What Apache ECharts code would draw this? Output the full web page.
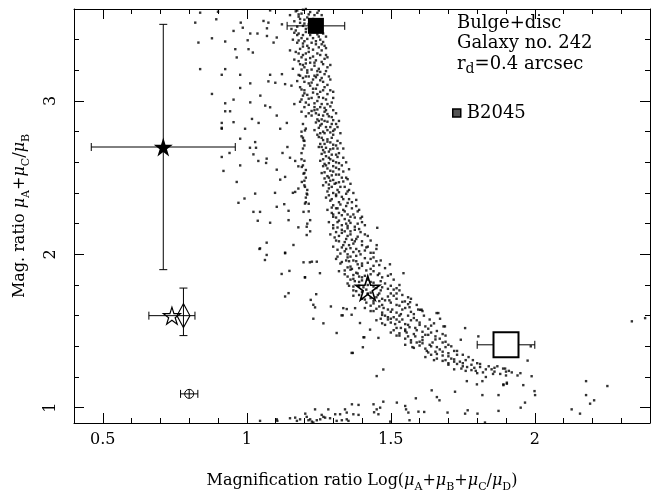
<!DOCTYPE html>
<html>
<head>
<meta charset="utf-8">
<script src="https://cdn.jsdelivr.net/npm/echarts@6/dist/echarts.min.js"></script>
<style>
html, body { margin: 0; padding: 0; background: #fff; }
#chart { width: 672px; height: 498px; }
</style>
</head>
<body>
<div id="chart"></div>
<script>
// Axis ticks
const xTickLabels = [0.5, 1, 1.5, 2];
const xMinorTicks = [0.4, 0.5, 0.6, 0.7, 0.8, 0.9, 1.0, 1.1, 1.2, 1.3, 1.4, 1.5, 1.6, 1.7, 1.8, 1.9, 2.0, 2.1, 2.2, 2.3, 2.4];
const yTickLabels = [1, 2, 3];
const yMinorTicks = [1.0, 1.2, 1.4, 1.6, 1.8, 2.0, 2.2, 2.4, 2.6, 2.8, 3.0, 3.2, 3.4, 3.6];

// Simulated lens models: the main arc of solutions
const mainArc = [
  [1.175,3.59],[1.19,3.57],[1.205,3.60],[1.22,3.58],[1.235,3.56],[1.25,3.59],[1.18,3.55],[1.21,3.545],
  [1.165,3.52],[1.185,3.51],[1.20,3.53],[1.215,3.50],[1.23,3.52],[1.26,3.53],[1.195,3.49],[1.245,3.47],
  [1.17,3.46],[1.18,3.44],[1.205,3.45],[1.22,3.43],[1.235,3.45],[1.25,3.42],[1.265,3.44],[1.19,3.41],
  [1.175,3.38],[1.20,3.39],[1.21,3.36],[1.225,3.38],[1.24,3.37],[1.255,3.40],[1.27,3.36],[1.185,3.34],
  [1.18,3.31],[1.195,3.30],[1.215,3.32],[1.23,3.29],[1.245,3.31],[1.26,3.33],[1.275,3.30],[1.205,3.27],
  [1.185,3.24],[1.20,3.22],[1.22,3.25],[1.235,3.23],[1.25,3.21],[1.265,3.24],[1.28,3.22],[1.21,3.20],
  [1.18,3.17],[1.195,3.15],[1.215,3.16],[1.23,3.14],[1.245,3.17],[1.26,3.15],[1.285,3.16],[1.225,3.12],
  [1.185,3.09],[1.20,3.07],[1.22,3.10],[1.24,3.08],[1.255,3.06],[1.27,3.09],[1.29,3.07],[1.21,3.04],
  [1.19,3.01],[1.205,2.99],[1.225,3.02],[1.245,3.00],[1.26,2.98],[1.275,3.01],[1.295,2.99],[1.235,2.96],
  [1.19,2.93],[1.215,2.92],[1.235,2.94],[1.25,2.91],[1.27,2.93],[1.285,2.90],[1.30,2.94],[1.26,2.88],
  [1.195,2.85],[1.205,2.82],[1.24,2.86],[1.255,2.84],[1.27,2.87],[1.29,2.83],[1.31,2.85],[1.265,2.80],
  [1.19,2.77],[1.20,2.74],[1.245,2.78],[1.26,2.76],[1.28,2.75],[1.30,2.78],[1.315,2.74],[1.27,2.72],
  [1.195,2.69],[1.19,2.66],[1.25,2.70],[1.265,2.68],[1.285,2.67],[1.30,2.69],[1.32,2.66],[1.275,2.64],
  [1.20,2.61],[1.195,2.58],[1.255,2.61],[1.27,2.59],[1.29,2.62],[1.31,2.60],[1.33,2.58],[1.28,2.56],
  [1.20,2.53],[1.205,2.50],[1.26,2.53],[1.28,2.51],[1.30,2.54],[1.32,2.52],[1.345,2.50],[1.29,2.48],
  [1.20,2.45],[1.21,2.42],[1.265,2.45],[1.285,2.43],[1.305,2.46],[1.325,2.44],[1.355,2.42],[1.30,2.40],
  [1.205,2.37],[1.215,2.33],[1.275,2.37],[1.29,2.35],[1.31,2.38],[1.335,2.36],[1.365,2.34],[1.30,2.32],
  [1.28,2.29],[1.295,2.27],[1.315,2.30],[1.34,2.28],[1.37,2.26],[1.39,2.29],[1.31,2.24],[1.355,2.22],
  [1.285,2.21],[1.30,2.19],[1.32,2.22],[1.345,2.20],[1.375,2.18],[1.40,2.21],[1.33,2.16],[1.36,2.15],
  [1.29,2.13],[1.305,2.11],[1.33,2.14],[1.35,2.12],[1.38,2.10],[1.41,2.13],[1.34,2.08],[1.37,2.07],
  [1.30,2.05],[1.315,2.03],[1.335,2.06],[1.36,2.04],[1.39,2.02],[1.42,2.05],[1.35,2.00],[1.38,1.99],[1.44,2.01],
  [1.31,1.97],[1.33,1.95],[1.35,1.98],[1.37,1.96],[1.40,1.94],[1.43,1.97],[1.36,1.92],[1.39,1.91],[1.46,1.93],
  [1.32,1.89],[1.34,1.87],[1.36,1.90],[1.38,1.88],[1.41,1.86],[1.44,1.89],[1.37,1.84],[1.40,1.83],[1.47,1.85],[1.50,1.87],
  [1.35,1.81],[1.37,1.79],[1.39,1.82],[1.42,1.80],[1.45,1.78],[1.48,1.81],[1.38,1.76],[1.43,1.75],[1.51,1.77],[1.53,1.80],
  [1.37,1.73],[1.40,1.71],[1.42,1.74],[1.45,1.72],[1.48,1.70],[1.51,1.73],[1.44,1.68],[1.47,1.67],[1.54,1.69],[1.57,1.71],
  [1.41,1.65],[1.43,1.63],[1.46,1.66],[1.49,1.64],[1.52,1.62],[1.55,1.65],[1.48,1.60],[1.51,1.59],[1.58,1.61],[1.61,1.63],
  [1.45,1.57],[1.47,1.55],[1.50,1.58],[1.53,1.56],[1.56,1.54],[1.59,1.57],[1.52,1.52],[1.55,1.51],[1.62,1.53],[1.65,1.55],
  [1.50,1.49],[1.52,1.47],[1.55,1.50],[1.58,1.48],[1.61,1.46],[1.64,1.49],[1.57,1.44],[1.60,1.43],[1.67,1.45],[1.69,1.47],
  [1.55,1.41],[1.58,1.39],[1.61,1.42],[1.64,1.40],[1.67,1.38],[1.70,1.41],[1.63,1.36],[1.66,1.35],[1.72,1.37],
  [1.62,1.33],[1.65,1.31],[1.68,1.34],[1.71,1.32],[1.74,1.30],[1.77,1.33],[1.70,1.28],[1.75,1.27],[1.80,1.29],
  [1.72,1.25],[1.76,1.24],[1.79,1.26],[1.82,1.23],[1.85,1.25],[1.88,1.22],[1.91,1.24],[1.94,1.21],[1.83,1.20],[1.87,1.27],
  [1.18,3.565],[1.23,3.535],[1.20,3.505],[1.24,3.49],[1.215,3.475],[1.175,3.43],[1.255,3.455],[1.23,3.41],[1.195,3.375],
  [1.265,3.385],[1.215,3.345],[1.25,3.35],[1.19,3.285],[1.24,3.265],[1.27,3.275],[1.195,3.235],[1.255,3.19],[1.21,3.185],
  [1.275,3.195],[1.24,3.155],[1.20,3.125],[1.265,3.125],[1.23,3.055],[1.28,3.045],[1.195,3.035],[1.25,3.025],[1.215,2.975],
  [1.27,2.955],[1.29,2.965],[1.245,2.945],[1.225,2.905],[1.28,2.915],[1.25,2.87],[1.30,2.875],[1.235,2.81],[1.28,2.81],
  [1.255,2.79],[1.29,2.795],[1.305,2.815],[1.265,2.745],[1.29,2.73],[1.31,2.71],[1.255,2.72],[1.275,2.695],[1.295,2.65],
  [1.315,2.635],[1.26,2.655],[1.285,2.595],[1.30,2.575],[1.265,2.575],[1.32,2.555],[1.295,2.515],[1.27,2.495],[1.335,2.475],
  [1.31,2.465],[1.285,2.455],[1.345,2.395],[1.32,2.405],[1.285,2.385],[1.35,2.335],[1.325,2.325],[1.295,2.305],[1.38,2.315],
  [1.33,2.255],[1.36,2.245],[1.30,2.245],[1.395,2.235],[1.315,2.175],[1.39,2.165],[1.35,2.17],[1.31,2.145],[1.365,2.095],
  [1.40,2.085],[1.32,2.085],[1.345,2.035],[1.41,2.025],[1.37,2.015],[1.325,2.005],[1.355,1.955],[1.42,1.945],[1.385,1.935],
  [1.45,1.955],[1.35,1.915],[1.43,1.905],[1.37,1.865],[1.46,1.875],[1.39,1.855],[1.42,1.835],[1.36,1.835],[1.44,1.815],
  [1.405,1.785],[1.47,1.785],[1.50,1.795],[1.40,1.755],[1.46,1.745],[1.52,1.745],[1.43,1.715],[1.49,1.725],[1.415,1.685],
  [1.50,1.685],[1.46,1.695],[1.53,1.665],[1.45,1.645],[1.56,1.675],[1.50,1.625],[1.535,1.61],[1.47,1.605],[1.57,1.625],
  [1.49,1.575],[1.54,1.575],[1.58,1.585],[1.515,1.545],[1.60,1.555],[1.565,1.525],[1.53,1.485],[1.59,1.505],[1.63,1.515],
  [1.56,1.465],[1.62,1.475],[1.655,1.465],[1.59,1.425],[1.645,1.425],[1.68,1.425],[1.62,1.385],[1.69,1.395],[1.655,1.365],
  [1.70,1.355],[1.73,1.345],[1.68,1.305],[1.72,1.315],[1.76,1.31],[1.73,1.285],[1.78,1.28],[1.81,1.265],[1.84,1.27],
  [1.86,1.235],[1.89,1.255],[1.92,1.23],[1.80,1.225],[1.78,1.245],
  [1.155,3.47],[1.15,3.33],[1.16,3.21],[1.155,3.10],[1.165,2.98],[1.16,3.40],[1.15,3.56],[1.165,3.27],
  [1.19,2.80],[1.195,2.76],[1.20,2.71],[1.19,2.62],[1.205,2.55],[1.20,2.48],[1.21,2.39],[1.205,2.34],[1.215,2.28],[1.21,2.20],[1.22,2.15],
  [1.497,1.935],[1.544,1.877],[1.520,1.779],[1.549,1.693],[1.607,1.639],[1.659,1.617],[1.688,1.530],
  [1.335,1.649],[1.364,1.606],[1.393,1.552],[1.428,1.509],[1.457,1.455],
  [1.17,3.585],[1.195,3.595],[1.215,3.565],[1.245,3.575],[1.26,3.56],[1.185,3.535],[1.225,3.505],[1.25,3.505],[1.175,3.485],
  [1.205,3.47],[1.235,3.46],[1.26,3.475],[1.165,3.445],[1.195,3.43],[1.245,3.435],[1.275,3.42],[1.21,3.405],[1.18,3.395],
  [1.24,3.39],[1.26,3.37],[1.195,3.355],[1.23,3.335],[1.275,3.345],[1.17,3.32],[1.205,3.31],[1.255,3.30],[1.22,3.28],
  [1.28,3.285],[1.18,3.26],[1.235,3.25],[1.26,3.255],[1.205,3.245],[1.29,3.235],[1.19,3.205],[1.225,3.205],[1.245,3.195],
  [1.27,3.175],[1.185,3.165],[1.205,3.16],[1.235,3.165],[1.255,3.135],[1.29,3.14],[1.175,3.13],[1.215,3.115],[1.245,3.105],
  [1.28,3.105],[1.19,3.075],[1.23,3.08],[1.265,3.07],[1.30,3.06],[1.20,3.05],[1.245,3.045],[1.215,3.015],[1.265,3.02],
  [1.185,2.995],[1.235,2.985],[1.28,2.98],[1.30,3.02],[1.20,2.96],[1.255,2.96],[1.225,2.935],[1.275,2.94],[1.31,2.92],
  [1.24,2.92],[1.205,2.90],[1.265,2.905],[1.295,2.895],[1.245,2.88],[1.28,2.865],[1.32,2.87],[1.26,2.85],[1.295,2.85],
  [1.25,2.825],[1.275,2.83],[1.315,2.83],[1.30,2.805],[1.27,2.79],[1.325,2.79],[1.25,2.765],[1.295,2.76],[1.28,2.735],
  [1.325,2.725],[1.30,2.715],[1.26,2.70],[1.315,2.69],[1.29,2.685],[1.335,2.69],[1.27,2.665],[1.31,2.65],[1.285,2.63],
  [1.335,2.63],[1.265,2.62],[1.30,2.61],[1.32,2.595],[1.345,2.60],[1.275,2.58],[1.31,2.565],[1.29,2.545],[1.335,2.54],
  [1.355,2.555],[1.27,2.535],[1.31,2.52],[1.285,2.50],[1.33,2.50],[1.35,2.49],[1.30,2.485],[1.275,2.47],[1.32,2.47],
  [1.36,2.46],[1.295,2.44],[1.34,2.44],[1.315,2.42],[1.28,2.41],[1.35,2.41],[1.37,2.40],[1.31,2.39],[1.33,2.375],
  [1.295,2.36],[1.355,2.36],[1.38,2.355],[1.32,2.34],[1.345,2.315],[1.31,2.30],[1.365,2.30],[1.335,2.29],[1.385,2.28],
  [1.32,2.27],[1.35,2.26],[1.30,2.26],[1.375,2.24],[1.34,2.23],[1.40,2.245],[1.315,2.21],[1.36,2.205],[1.385,2.20],
  [1.33,2.19],[1.41,2.19],[1.35,2.185],[1.30,2.17],[1.375,2.16],[1.34,2.15],[1.395,2.145],[1.32,2.12],[1.36,2.13],
  [1.42,2.12],[1.385,2.115],[1.345,2.10],[1.31,2.09],[1.375,2.085],[1.43,2.09],[1.40,2.06],[1.355,2.06],[1.33,2.045],
  [1.415,2.045],[1.38,2.035],[1.45,2.035],[1.34,2.02],[1.395,2.00],[1.43,2.01],[1.36,1.985],
  [1.315,1.985],[1.41,1.975],[1.44,1.98],[1.345,1.96],[1.38,1.955],[1.465,1.96],[1.325,1.94],[1.40,1.925],[1.44,1.925],
  [1.365,1.905],[1.415,1.895],[1.48,1.91],[1.34,1.895],[1.385,1.875],[1.43,1.87],[1.455,1.865],[1.35,1.855],[1.40,1.85],
  [1.49,1.86],[1.375,1.825],[1.43,1.82],[1.465,1.825],[1.51,1.835],[1.355,1.795],[1.39,1.795],[1.44,1.79],[1.49,1.775],
  [1.415,1.77],[1.37,1.765],[1.465,1.765],[1.53,1.765],[1.42,1.745],[1.50,1.745],[1.39,1.735],[1.455,1.735],[1.54,1.735],
  [1.47,1.71],[1.41,1.705],[1.52,1.71],[1.56,1.72],[1.44,1.695],[1.495,1.70],[1.43,1.665],[1.475,1.65],[1.52,1.67],
  [1.565,1.655],[1.59,1.67],[1.44,1.63],[1.505,1.64],[1.54,1.64],[1.47,1.62],[1.595,1.64],[1.53,1.60],[1.56,1.60],
  [1.49,1.59],[1.615,1.60],[1.465,1.58],[1.52,1.575],[1.57,1.57],[1.635,1.575],[1.50,1.555],[1.55,1.545],[1.60,1.54],
  [1.48,1.54],[1.535,1.52],[1.585,1.52],[1.64,1.535],[1.51,1.505],[1.555,1.49],[1.61,1.495],[1.66,1.50],[1.53,1.47],
  [1.585,1.465],[1.63,1.475],[1.68,1.48],[1.55,1.45],[1.61,1.44],[1.655,1.445],[1.57,1.425],[1.635,1.41],[1.69,1.43],
  [1.60,1.405],[1.66,1.395],[1.71,1.40],[1.575,1.395],[1.625,1.37],[1.68,1.365],[1.73,1.37],[1.64,1.345],[1.70,1.335],
  [1.75,1.345],[1.66,1.32],[1.72,1.30],[1.785,1.31],[1.69,1.31],[1.75,1.29],[1.81,1.285],[1.70,1.29],[1.765,1.265],
  [1.83,1.25],[1.795,1.24],[1.855,1.22],[1.90,1.21],[1.745,1.255],[1.86,1.26],[1.95,1.225],[1.90,1.235]
];

// Sparse solutions inside the arc
const innerScatter = [
  [0.838,3.576],[0.900,3.582],[0.821,3.511],[0.894,3.533],[0.979,3.511],[0.986,3.478],[0.954,3.457],[0.879,3.409],
  [0.832,3.381],[0.925,3.388],[1.003,3.396],[1.012,3.440],[1.037,3.440],[1.070,3.424],[1.075,3.511],[1.058,3.522],
  [1.070,3.474],[1.081,3.591],[1.122,3.500],[1.104,3.414],[1.093,3.381],[0.960,3.338],[1.006,3.338],[1.021,3.316],
  [0.965,3.284],[0.838,3.208],[0.925,3.208],[0.913,3.171],[0.977,3.171],[1.081,3.171],[1.122,3.175],[1.075,3.128],
  [1.099,3.119],[1.133,3.110],[1.012,3.115],[0.977,3.085],[0.879,3.046],[0.954,3.009],[0.925,2.985],[1.012,2.991],
  [1.047,3.035],[1.064,2.970],[1.081,2.959],[0.942,2.933],[0.925,2.933],[1.104,2.905],[1.018,2.883],[0.913,2.857],
  [0.954,2.862],[1.041,2.857],[1.139,2.857],[0.913,2.825],
  [0.913,2.819],[0.994,2.819],[0.913,2.635],[0.940,2.661],[0.919,2.544],[0.977,2.754],[1.011,2.695],[1.029,2.732],
  [1.032,2.695],[1.023,2.652],[1.040,2.609],[1.069,2.624],[1.067,2.596],[0.977,2.580],[1.116,2.819],[1.141,2.700],
  [1.150,2.630],[1.124,2.661],[1.104,2.552],[1.133,2.505],[1.116,2.487],[1.168,2.609],[1.179,2.574],[0.965,2.472],
  [1.029,2.396],[0.992,2.364],[0.971,2.336],[1.098,2.401],[1.160,2.401],[1.168,2.407],[1.179,2.429],[1.202,2.440],
  [1.208,2.396],[1.202,2.331],[1.104,2.310],[1.130,2.327],[1.145,2.284],[1.197,2.277],[1.023,2.277],[1.046,2.277],
  [1.038,2.219],[1.081,2.206],[1.145,2.223],[1.179,2.176],[1.208,2.180],[1.208,2.126],[1.220,2.223],[1.069,2.076],
  [1.162,2.061],[1.044,2.035],[1.133,2.011],[1.191,2.472],[1.197,2.526],[1.191,2.570],[1.197,2.743],[1.202,2.808],
  [1.046,2.039],[1.069,1.996],[1.063,1.963],[1.133,2.007],[1.197,1.948],[1.226,1.952],[1.243,1.952],[1.148,1.892],
  [1.121,1.872],[1.202,1.851],[1.254,1.877],[1.145,1.747],[1.133,1.725],[1.222,1.703],[1.231,1.671],[1.241,1.740],
  [1.237,1.654],[1.292,1.660],[1.231,1.580],[1.266,1.550],[1.312,1.487],[1.333,1.602],[1.347,1.643],[1.364,1.357],
  [1.376,1.649],[1.219,1.948],[1.202,1.849],[1.405,1.459],[1.329,1.602],
  [1.368,1.357],[1.403,1.394],[1.408,1.459],[1.451,1.206],[1.474,1.249],[1.453,2.173],[1.451,2.060],
  [1.758,1.519],[1.804,1.465],[1.743,1.443],[1.665,1.617],[1.671,1.580],[1.683,1.530],[1.602,1.638],[1.567,1.688],
  [1.989,1.205],[1.960,1.147],[1.975,1.307],[1.986,1.400],[1.897,1.255],[1.903,1.156],[1.891,1.147]
];

// Lower branch of solutions near the bottom of the plot
const lowerArc = [
  [1.046,0.914],[1.104,0.924],[1.106,0.914],[1.150,0.931],[1.168,0.935],[1.174,0.914],[1.185,0.924],[1.203,0.961],
  [1.208,0.940],[1.214,0.918],[1.220,0.924],[1.226,0.909],[1.231,0.903],[1.237,0.989],[1.243,0.918],[1.255,0.924],
  [1.260,0.953],[1.266,0.940],[1.272,0.935],[1.283,0.989],[1.289,0.931],[1.307,0.957],[1.312,0.914],[1.324,0.957],
  [1.330,0.918],[1.341,0.989],[1.347,0.968],[1.347,0.924],[1.353,0.914],[1.365,1.022],[1.370,0.957],[1.388,1.018],
  [1.388,0.953],[1.440,1.022],[1.442,0.970],[1.451,0.989],[1.457,0.957],[1.463,1.000],[1.474,1.039],[1.498,0.909],
  [1.521,1.033],[1.550,1.011],[1.553,0.989],[1.561,0.968],[1.565,0.918],[1.587,1.061],[1.596,0.974],[1.616,0.972],
  [1.642,1.113],[1.660,1.069],[1.669,1.048],[1.697,0.968],[1.723,1.104],[1.764,1.173],[1.767,0.983],[1.758,0.961],
  [1.799,1.152],[1.801,0.961],[1.818,1.082],[1.827,0.903],[1.818,1.173],[1.874,1.082],[1.874,0.979],[1.891,1.152],
  [1.903,1.163],[1.966,1.033],[1.951,1.000],[1.999,1.108],[2.001,1.082],[2.128,0.989],[2.157,0.961],[2.178,1.173],
  [2.178,1.082],[2.192,1.026],[2.206,1.048],[2.252,1.141],[2.337,1.563],[2.383,1.584]
];

// Observed systems
const starFilled = [[0.71, 2.70]];
const b2045 = [[1.24, 3.49]];
const starOpen = [[0.74, 1.60]];
const diamondOpen = [[0.78, 1.60]];
const circleCross = [[0.80, 1.09]];
const starLarge = [[1.42, 1.78]];
const squareOpen = [[1.90, 1.41]];

// Error bars: [y, xLow, xHigh] and [x, yLow, yHigh]
const xErrors = [[2.70, 0.46, 0.96], [3.49, 1.14, 1.34], [1.60, 0.66, 0.82], [1.09, 0.77, 0.83], [1.41, 1.80, 2.00]];
const yErrors = [[0.71, 1.90, 3.50], [0.78, 1.47, 1.78]];

const serif = 'DejaVu Serif';
const ink = '#000';
const STAR = 'path://M0,-100L22.45,-30.9L95.11,-30.9L36.33,11.8L58.78,80.9L0,38.2L-58.78,80.9L-36.33,11.8L-95.11,-30.9L-22.45,-30.9Z';
const OPLUS = 'path://M0,-10A10,10,0,1,1,0,10A10,10,0,1,1,0,-10ZM0,-10L0,10M-10,0L10,0';

function tickAxis(position, ticks, len, showLine) {
  const horizontal = position === 'top' || position === 'bottom';
  return {
    type: 'value', position: position,
    min: horizontal ? 0.4 : 0.9,
    max: horizontal ? 2.4 : 3.6,
    axisLine: { show: showLine, onZero: false, lineStyle: { color: ink, width: 1 } },
    axisTick: { show: true, inside: true, length: len, customValues: ticks, lineStyle: { color: ink, width: 1 } },
    axisLabel: { show: false },
    splitLine: { show: false }
  };
}

const nameStyle = {
  color: ink, fontFamily: serif, fontSize: 16, lineHeight: 18,
  rich: {
    m: { fontFamily: serif, fontSize: 16, fontStyle: 'italic', color: ink, lineHeight: 18 },
    s: { fontFamily: serif, fontSize: 11, color: ink, lineHeight: 24, verticalAlign: 'bottom' }
  }
};

const xMain = tickAxis('bottom', xTickLabels, 10, true);
xMain.axisLabel = { show: true, customValues: xTickLabels, color: ink, fontFamily: serif, fontSize: 16, margin: 9 };
xMain.name = 'Magnification ratio Log({m|μ}{s|A}+{m|μ}{s|B}+{m|μ}{s|C}/{m|μ}{s|D})';
xMain.nameLocation = 'middle';
xMain.nameGap = 46;
xMain.nameTextStyle = nameStyle;

const yMain = tickAxis('left', yTickLabels, 10, true);
yMain.axisLabel = { show: true, customValues: yTickLabels, color: ink, fontFamily: serif, fontSize: 16, margin: 15, rotate: 90 };
yMain.name = 'Mag. ratio {m|μ}{s|A}+{m|μ}{s|C}/{m|μ}{s|B}';
yMain.nameLocation = 'middle';
yMain.nameGap = 42;
yMain.nameTextStyle = nameStyle;

function dots(name, data) {
  return {
    name: name, type: 'scatter', data: data, symbol: 'rect', symbolSize: 2.4,
    itemStyle: { color: ink }, silent: true, z: 2
  };
}

function marker(name, data, symbol, size, fill, lineWidth) {
  return {
    name: name, type: 'scatter', data: data, symbol: symbol, symbolSize: size,
    itemStyle: { color: fill, borderColor: ink, borderWidth: lineWidth, opacity: 1 },
    silent: true, z: 5
  };
}

function xErrorBar(params, api) {
  const y = api.value(0);
  const a = api.coord([api.value(1), y]);
  const b = api.coord([api.value(2), y]);
  const st = { stroke: ink, lineWidth: 1 };
  return { type: 'group', children: [
    { type: 'line', shape: { x1: a[0], y1: a[1], x2: b[0], y2: b[1] }, style: st },
    { type: 'line', shape: { x1: a[0], y1: a[1] - 4, x2: a[0], y2: a[1] + 4 }, style: st },
    { type: 'line', shape: { x1: b[0], y1: b[1] - 4, x2: b[0], y2: b[1] + 4 }, style: st }
  ] };
}

function yErrorBar(params, api) {
  const x = api.value(0);
  const a = api.coord([x, api.value(1)]);
  const b = api.coord([x, api.value(2)]);
  const st = { stroke: ink, lineWidth: 1 };
  return { type: 'group', children: [
    { type: 'line', shape: { x1: a[0], y1: a[1], x2: b[0], y2: b[1] }, style: st },
    { type: 'line', shape: { x1: a[0] - 4, y1: a[1], x2: a[0] + 4, y2: a[1] }, style: st },
    { type: 'line', shape: { x1: b[0] - 4, y1: b[1], x2: b[0] + 4, y2: b[1] }, style: st }
  ] };
}

const option = {
  animation: false,
  backgroundColor: '#fff',
  grid: { left: 74, top: 9, right: 22, bottom: 72 },
  title: {
    text: 'Bulge+disc\nGalaxy no. 242\nr{s|d}=0.4 arcsec',
    left: 457, top: 13, padding: 0,
    textStyle: {
      fontFamily: serif, fontSize: 18, fontWeight: 'normal', color: ink, lineHeight: 20,
      rich: { s: { fontFamily: serif, fontSize: 14, color: ink, lineHeight: 23, verticalAlign: 'bottom' } }
    }
  },
  legend: {
    data: ['B2045'], left: 452, top: 104, padding: 0,
    icon: 'rect', itemWidth: 8, itemHeight: 8, itemGap: 0, selectedMode: false,
    itemStyle: { color: '#555', borderColor: ink, borderWidth: 1.5 },
    textStyle: { fontFamily: serif, fontSize: 18, color: ink, padding: [0, 0, 0, 1] }
  },
  xAxis: [xMain, tickAxis('bottom', xMinorTicks, 5, false), tickAxis('top', xTickLabels, 10, true), tickAxis('top', xMinorTicks, 5, false)],
  yAxis: [yMain, tickAxis('left', yMinorTicks, 5, false), tickAxis('right', yTickLabels, 10, true), tickAxis('right', yMinorTicks, 5, false)],
  series: [
    dots('arc', mainArc),
    dots('inner', innerScatter),
    dots('lower', lowerArc),
    { type: 'custom', name: 'xerr', data: xErrors, encode: { x: [1, 2], y: 0 }, silent: true, z: 4, renderItem: xErrorBar },
    { type: 'custom', name: 'yerr', data: yErrors, encode: { x: 0, y: [1, 2] }, silent: true, z: 4, renderItem: yErrorBar },
    marker('star', starFilled, STAR, 19, ink, 0),
    marker('B2045', b2045, 'rect', 16, ink, 0),
    marker('diamond', diamondOpen, 'diamond', [13, 24], 'rgba(255,255,255,0)', 1.2),
    marker('openStar', starOpen, STAR, 17, 'rgba(255,255,255,0)', 1.2),
    marker('oplus', circleCross, OPLUS, 9, '#fff', 1),
    marker('bigStar', starLarge, STAR, 24, 'rgba(255,255,255,0)', 1.6),
    marker('openSquare', squareOpen, 'rect', 25, '#fff', 2)
  ]
};

const chart = echarts.init(document.getElementById('chart'), null, { renderer: 'canvas' });
chart.setOption(option);
</script>
</body>
</html>
